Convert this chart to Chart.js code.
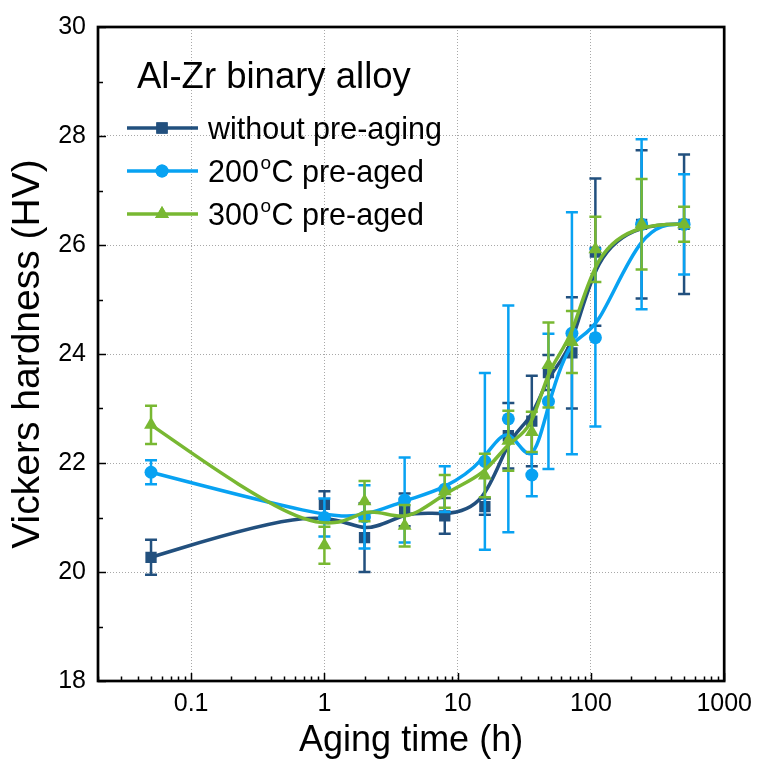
<!DOCTYPE html>
<html>
<head>
<meta charset="utf-8">
<script src="https://cdn.jsdelivr.net/npm/chart.js@4.4.1/dist/chart.umd.min.js"></script>
<style>
  html, body { margin: 0; padding: 0; background: #ffffff; }
  #wrap { width: 760px; height: 765px; position: relative; }
</style>
</head>
<body>
<div id="wrap"><canvas id="c" width="760" height="765"></canvas></div>
<script>
// ---------------- data ----------------
const agingTimes = [0.05, 1, 2, 4, 8, 16, 24, 36, 48, 72, 108, 240, 500];

const seriesNames = ['without pre-aging', '200°C pre-aged', '300°C pre-aged'];

const hvNoPre   = [20.27, 21.24, 20.63, 21.14, 21.03, 21.20, 22.50, 22.77, 23.66, 24.02, 25.87, 26.38, 26.38];
const errNoPre  = [0.32, 0.24, 0.63, 0.30, 0.33, 0.15, 0.60, 0.83, 0.32, 1.02, 1.35, 1.36, 1.28];

const hv200     = [21.83, 21.00, 21.01, 21.32, 21.52, 22.03, 22.81, 21.78, 23.13, 24.38, 24.30, 26.38, 26.38];
const err200    = [0.22, 0.35, 0.58, 0.78, 0.42, 1.62, 2.08, 0.39, 1.24, 2.22, 1.63, 1.56, 0.92];

const hv300     = [22.70, 20.49, 21.30, 20.85, 21.48, 21.77, 22.41, 22.57, 23.80, 24.22, 25.92, 26.38, 26.38];
const err300    = [0.35, 0.34, 0.37, 0.38, 0.30, 0.40, 0.55, 0.37, 0.78, 0.57, 0.60, 0.83, 0.32];

const xTickValues = [0.1, 1, 10, 100, 1000];
const xTickLabels = ['0.1', '1', '10', '100', '1000'];
const yTickValues = [18, 20, 22, 24, 26, 28, 30];
const yTickLabels = ['18', '20', '22', '24', '26', '28', '30'];

const legendTitle = 'Al-Zr binary alloy';
const xTitle = 'Aging time (h)';
const yTitle = 'Vickers hardness (HV)';

// ---------------- style ----------------
const FONT = "'Liberation Sans', Arial, Helvetica, sans-serif";
const colors = ['#22507E', '#08A2F2', '#78B832'];
const pointStyles = ['rect', 'circle', 'triangle'];
const pointRadii = [8, 6.5, 8];
const errSets = [errNoPre, err200, err300];

function toXY(ys) { return agingTimes.map((x, i) => ({ x: x, y: ys[i] })); }

// B-spline line (control points = library-computed pixel positions of the data)
function drawBSpline(ctx, pts) {
  const n = pts.length;
  const q = [pts[0], pts[0]].concat(pts, [pts[n - 1], pts[n - 1]]);
  ctx.beginPath();
  ctx.moveTo(pts[0].x, pts[0].y);
  for (let i = 1; i < q.length - 2; i++) {
    const b = q[i], c = q[i + 1], d = q[i + 2];
    ctx.bezierCurveTo(
      (2 * b.x + c.x) / 3, (2 * b.y + c.y) / 3,
      (b.x + 2 * c.x) / 3, (b.y + 2 * c.y) / 3,
      (b.x + 4 * c.x + d.x) / 6, (b.y + 4 * c.y + d.y) / 6
    );
  }
  ctx.stroke();
}

const seriesPlugin = {
  id: 'seriesLinesErr',
  beforeDatasetDraw(chart, args) {
    const ctx = chart.ctx;
    const i = args.index;
    const meta = args.meta;
    const ys = chart.scales.y;
    const pts = meta.data.map(p => ({ x: p.x, y: p.y }));
    ctx.save();
    ctx.strokeStyle = colors[i];
    ctx.lineWidth = 3.5;
    ctx.lineJoin = 'round';
    ctx.lineCap = 'round';
    drawBSpline(ctx, pts);
    // error bars
    const ds = chart.data.datasets[i];
    const errs = errSets[i];
    ctx.lineWidth = 2.5;
    ctx.lineCap = 'butt';
    ds.data.forEach((d, k) => {
      const px = meta.data[k].x;
      const yTop = ys.getPixelForValue(d.y + errs[k]);
      const yBot = ys.getPixelForValue(d.y - errs[k]);
      ctx.beginPath();
      ctx.moveTo(px, yTop); ctx.lineTo(px, yBot);
      ctx.moveTo(px - 6, yTop); ctx.lineTo(px + 6, yTop);
      ctx.moveTo(px - 6, yBot); ctx.lineTo(px + 6, yBot);
      ctx.stroke();
    });
    ctx.restore();
  }
};

const framePlugin = {
  id: 'frameTicksLegend',
  afterDraw(chart) {
    const ctx = chart.ctx;
    const a = chart.chartArea;
    const xs = chart.scales.x, ys = chart.scales.y;
    ctx.save();
    // inward ticks
    ctx.strokeStyle = '#000';
    ctx.lineWidth = 1.5;
    ctx.beginPath();
    for (let e = -2; e <= 2; e++) {
      for (let m = 1; m <= 9; m++) {
        const v = m * Math.pow(10, e);
        if (v < xs.min - 1e-12 || v > xs.max + 1e-9) continue;
        const px = Math.round(xs.getPixelForValue(v)) + 0.5;
        const len = (m === 1) ? 8 : 4.5;
        ctx.moveTo(px, a.bottom); ctx.lineTo(px, a.bottom - len);
      }
    }
    const px1000 = Math.round(xs.getPixelForValue(1000)) + 0.5;
    ctx.moveTo(px1000, a.bottom); ctx.lineTo(px1000, a.bottom - 8);
    for (let v = 18; v <= 30; v += 1) {
      const py = Math.round(ys.getPixelForValue(v)) + 0.5;
      const len = (v % 2 === 0) ? 8 : 5;
      ctx.moveTo(a.left, py); ctx.lineTo(a.left + len, py);
    }
    ctx.stroke();
    // frame
    ctx.lineWidth = 2.7;
    ctx.strokeRect(a.left, a.top, a.right - a.left, a.bottom - a.top);

    // legend
    ctx.fillStyle = '#000';
    ctx.textBaseline = 'alphabetic';
    ctx.textAlign = 'left';
    ctx.font = '36.5px ' + FONT;
    ctx.fillText(legendTitle, 137, 88);
    const rowY = [128, 171, 214];
    chart.data.datasets.forEach((ds, i) => {
      const y = rowY[i];
      ctx.strokeStyle = colors[i];
      ctx.lineWidth = 3.5;
      ctx.beginPath();
      ctx.moveTo(127, y); ctx.lineTo(198, y);
      ctx.stroke();
      ctx.fillStyle = colors[i];
      Chart.helpers.drawPoint(ctx, { pointStyle: pointStyles[i], radius: pointRadii[i], rotation: 0, borderWidth: 0 }, 162, y);
      ctx.fill();
      // label text with superscript degree
      ctx.fillStyle = '#000';
      const label = ds.label;
      const parts = label.split('°');
      let x = 208;
      const base = y + 10.5;
      ctx.font = '30.5px ' + FONT;
      ctx.fillText(parts[0], x, base);
      x += ctx.measureText(parts[0]).width;
      if (parts.length > 1) {
        ctx.font = '19px ' + FONT;
        ctx.fillText('o', x + 1.5, base - 12.5);
        x += ctx.measureText('o').width + 2;
        ctx.font = '30.5px ' + FONT;
        ctx.fillText(parts[1], x, base);
      }
    });
    ctx.restore();
  }
};

const datasets = [hvNoPre, hv200, hv300].map((ys, i) => ({
  label: seriesNames[i],
  data: toXY(ys),
  showLine: false,
  pointStyle: pointStyles[i],
  pointRadius: pointRadii[i],
  pointHoverRadius: pointRadii[i],
  pointBackgroundColor: colors[i],
  pointBorderColor: colors[i],
  pointBorderWidth: 0,
  borderColor: colors[i],
  backgroundColor: colors[i],
  order: 3 - i
}));

new Chart(document.getElementById('c'), {
  type: 'line',
  data: { datasets: datasets },
  plugins: [seriesPlugin, framePlugin],
  options: {
    responsive: false,
    animation: false,
    devicePixelRatio: 1,
    layout: { padding: { top: 17, right: 31, left: 0, bottom: 0 } },
    plugins: { legend: { display: false }, tooltip: { enabled: false } },
    scales: {
      x: {
        type: 'logarithmic',
        min: 0.02,
        max: 1000,
        afterBuildTicks(scale) { scale.ticks = xTickValues.map(v => ({ value: v, major: true })); },
        afterFit(scale) { scale.height = 84; },
        ticks: {
          autoSkip: false,
          maxRotation: 0,
          padding: 8,
          color: '#000',
          font: { family: FONT, size: 25 },
          callback(value) { const k = xTickValues.indexOf(value); return k >= 0 ? xTickLabels[k] : ''; }
        },
        grid: { color: '#a8a8a8', lineWidth: 1, drawTicks: false },
        border: { display: false, dash: [1, 2] },
        title: { display: true, text: xTitle, color: '#000', font: { family: FONT, size: 36 }, padding: { top: 0, bottom: 2 } }
      },
      y: {
        type: 'linear',
        min: 18,
        max: 30,
        afterBuildTicks(scale) { scale.ticks = yTickValues.map(v => ({ value: v })); },
        afterFit(scale) { scale.width = 98; },
        ticks: {
          padding: 12,
          color: '#000',
          font: { family: FONT, size: 25 },
          callback(value) { const k = yTickValues.indexOf(value); return k >= 0 ? yTickLabels[k] : ''; }
        },
        grid: { color: '#a8a8a8', lineWidth: 1, drawTicks: false },
        border: { display: false, dash: [1, 2] },
        title: { display: true, text: yTitle, color: '#000', font: { family: FONT, size: 39 }, padding: { top: 5, bottom: 0 } }
      }
    }
  }
});
</script>
</body>
</html>
